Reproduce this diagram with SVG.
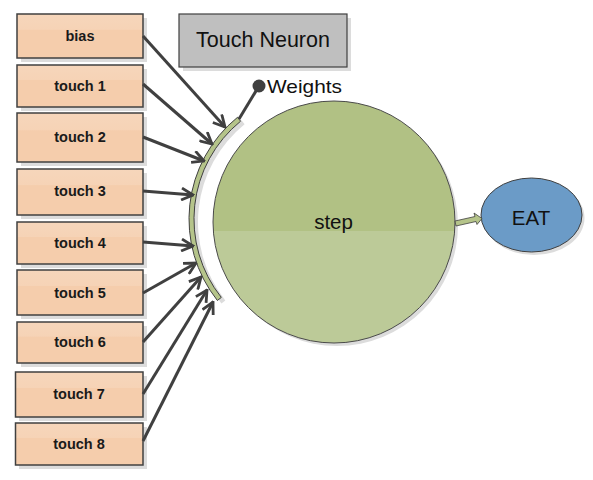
<svg xmlns="http://www.w3.org/2000/svg" width="593" height="480" viewBox="0 0 593 480">
<style>
.box{fill:url(#peach);stroke:#404040;stroke-width:1.5}
.shadow{fill:#dcdcdc}
.lbl{font-family:"Liberation Sans",Arial,sans-serif;font-size:14.5px;font-weight:bold;fill:#1a1a1a;text-anchor:middle}
.txt{font-family:"Liberation Sans",Arial,sans-serif;fill:#111;text-anchor:middle}
.conn{stroke:#404040;stroke-width:3;fill:none;marker-end:url(#arr)}
</style>
<defs>
<linearGradient id="peach" x1="0" y1="0" x2="0" y2="1">
<stop offset="0" stop-color="#f6d6bb"/>
<stop offset="0.35" stop-color="#f6d3b6"/>
<stop offset="0.36" stop-color="#f5cdac"/>
<stop offset="1" stop-color="#f5cdac"/>
</linearGradient>
<marker id="arr" viewBox="0 0 14 14" markerWidth="14" markerHeight="14" refX="12.5" refY="7" orient="auto" markerUnits="userSpaceOnUse">
<path d="M1,1 L12.5,7 L1,13" fill="none" stroke="#404040" stroke-width="2.8"/>
</marker>
</defs>
<rect width="593" height="480" fill="#fff"/>

<g id="bias"><rect class="shadow" x="21" y="18" width="126" height="44"/><rect class="box" x="17" y="14" width="126" height="44"/><text class="lbl" x="80" y="41">bias</text></g>
<g id="touch1"><rect class="shadow" x="21" y="69" width="126" height="42"/><rect class="box" x="17" y="65" width="126" height="42"/><text class="lbl" x="80" y="91">touch 1</text></g>
<g id="touch2"><rect class="shadow" x="21" y="117" width="126" height="49"/><rect class="box" x="17" y="113" width="126" height="49"/><text class="lbl" x="80" y="142">touch 2</text></g>
<g id="touch3"><rect class="shadow" x="21" y="173" width="126" height="46"/><rect class="box" x="17" y="169" width="126" height="46"/><text class="lbl" x="80" y="196">touch 3</text></g>
<g id="touch4"><rect class="shadow" x="21" y="226" width="126" height="42"/><rect class="box" x="17" y="222" width="126" height="42"/><text class="lbl" x="80" y="248">touch 4</text></g>
<g id="touch5"><rect class="shadow" x="21" y="274" width="126" height="45"/><rect class="box" x="17" y="270" width="126" height="45"/><text class="lbl" x="80" y="298">touch 5</text></g>
<g id="touch6"><rect class="shadow" x="21" y="326" width="126" height="41"/><rect class="box" x="17" y="322" width="126" height="41"/><text class="lbl" x="80" y="347">touch 6</text></g>
<g id="touch7"><rect class="shadow" x="19" y="376" width="128" height="45"/><rect class="box" x="15.5" y="372" width="127.5" height="45"/><text class="lbl" x="79" y="399">touch 7</text></g>
<g id="touch8"><rect class="shadow" x="19" y="427" width="128" height="42"/><rect class="box" x="15.5" y="423" width="127.5" height="42"/><text class="lbl" x="79" y="449">touch 8</text></g>

<g id="title">
<rect x="183" y="18" width="168" height="53" fill="#dcdcdc"/>
<rect x="179" y="14" width="168" height="53" fill="#bfbfbf" stroke="#404040" stroke-width="1.2"/>
<text class="txt" x="263" y="46.5" font-size="21.5">Touch Neuron</text>
</g>

<g id="step">
<circle cx="337" cy="225" r="121" fill="#dcdcdc"/>
<clipPath id="cc"><circle cx="334" cy="222" r="121"/></clipPath>
<g clip-path="url(#cc)">
<rect x="210" y="100" width="250" height="131" fill="#b1c184"/>
<rect x="210" y="231" width="250" height="115" fill="#bcca98"/>
</g>
<circle cx="334" cy="222" r="121" fill="none" stroke="#4a4a4a" stroke-width="1"/>
<text class="txt" x="333.5" y="228.5" font-size="20.5">step</text>
</g>

<g id="weights">
<path d="M241.5,120.3 A131,131 0 0 0 221.4,303.5 L225.3,300.4 A126,126 0 0 1 244.6,124.2 Z" fill="#dcdcdc"/>
<path d="M237.5,117.3 A131,131 0 0 0 217.4,300.5 L221.3,297.4 A126,126 0 0 1 240.6,121.2 Z" fill="#b5c48a" stroke="#404040" stroke-width="1"/>
<line x1="259" y1="86" x2="239" y2="119" stroke="#404040" stroke-width="3"/>
<circle cx="259" cy="86" r="6.5" fill="#404040"/>
<text x="267" y="93" font-family="'Liberation Sans',Arial,sans-serif" font-size="19" fill="#111" textLength="75" lengthAdjust="spacingAndGlyphs">Weights</text>
</g>

<g id="eat">
<ellipse cx="534" cy="218" rx="50.5" ry="37" fill="#dcdcdc"/>
<ellipse cx="531.5" cy="215" rx="50.5" ry="37" fill="#6b9bc7" stroke="#404040" stroke-width="1"/>
<text class="txt" x="531" y="225" font-size="20.5">EAT</text>
</g>

<g id="connectors">
<line class="conn" x1="143" y1="36" x2="225" y2="127"/>
<line class="conn" x1="143" y1="84" x2="212" y2="144"/>
<line class="conn" x1="143" y1="137" x2="204" y2="161"/>
<line class="conn" x1="143" y1="191" x2="193" y2="195"/>
<line class="conn" x1="143" y1="242" x2="193" y2="246"/>
<line class="conn" x1="143" y1="293" x2="196" y2="263"/>
<line class="conn" x1="143" y1="342" x2="201" y2="277"/>
<line class="conn" x1="143" y1="394" x2="207" y2="290"/>
<line class="conn" x1="143" y1="441" x2="213" y2="302"/>
<path d="M455,221 L475,216.5 L474,213 L482,218.5 L477,224.5 L476,221.5 L456,226 Z" fill="#b5c48a" stroke="#404040" stroke-width="0.8"/>
</g>
</svg>
